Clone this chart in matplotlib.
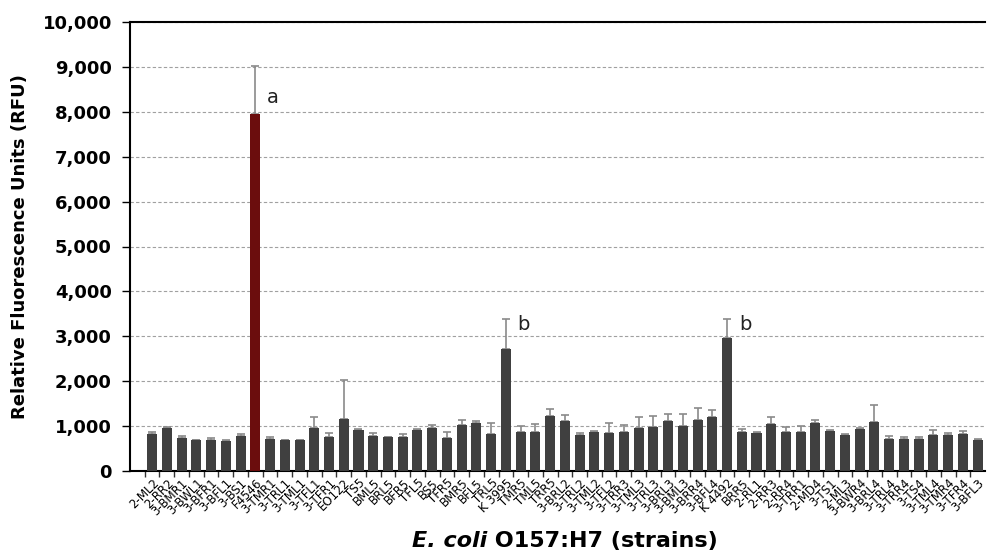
import numpy as np
import matplotlib.pyplot as plt

strains = ['2-ML2', '2-RR2', '3-BMR1', '3-BWL1', '3-BFR1', '3-BFL1', '3-BS1', 'F4546',
           '3-TMR1', '3-TRL1', '3-TML1', '3-TFL1', '3-TFR1', 'EO122', 'TS5', 'BML5',
           'BRL5', 'BFR5', 'TFL5', 'BS5', 'TFR5', 'BMR5', 'BFL5', 'TRL5', 'K 3995',
           'TMR5', 'TML5', 'TRR5', '3-BRL2', '3-TRL2', '3-TML2', '3-TFL2', '3-TRR3',
           '3-TML3', '3-TRL3', '3-BRL3', '3-BML3', '3-BRR4', '3-BFL4', 'K 4492', 'BRR5',
           '2-RL1', '2-RR3', '2-RR4', '3-TRR1', '2-MD4', '3-TS1', '2-ML3', '3-BWR4',
           '3-BRL4', '3-TRL4', '3-TRR4', '3-TS4', '3-TML4', '3-TMR4', '3-TFR4', '3-BFL3']

rfu = [830, 950, 730, 690, 680, 675, 785, 7950,
       710, 690, 690, 950, 765, 1160, 910, 780,
       765, 765, 905, 965, 740, 1015, 1060, 820, 2720,
       860, 875, 1220, 1110, 795, 875, 840, 875,
       950, 985, 1110, 1000, 1125, 1195, 2960, 875,
       840, 1040, 875, 875, 1060, 895, 805, 940,
       1095, 710, 710, 705, 800, 800, 820, 680]

err = [30, 40, 50, 0, 60, 10, 40, 1080,
       45, 0, 0, 260, 90, 860, 15, 75,
       0, 50, 35, 65, 130, 110, 60, 250, 660,
       135, 170, 170, 140, 60, 20, 240, 140,
       245, 250, 160, 260, 270, 170, 420, 50,
       20, 170, 110, 120, 75, 15, 15, 20,
       380, 80, 45, 50, 110, 50, 80, 40]

# significance letters and the height where they sit
letters = {'F4546': ('a', 8100), 'K 3995': ('b', 3050), 'K 4492': ('b', 3050)}

x = np.arange(len(strains))
colors = ['#6b0d0d' if s == 'F4546' else '#404040' for s in strains]

fig = plt.figure(figsize=(10.06, 5.55), dpi=100)
ax = fig.add_axes([130 / 1006, 84 / 555, 855 / 1006, 449 / 555])

ax.bar(x, rfu, width=0.68, color=colors, zorder=3)
ax.errorbar(x, rfu, yerr=[np.zeros(len(err)), err], fmt='none',
            ecolor='#8a8a8a', elinewidth=1.2, capsize=3, capthick=1.2, zorder=2)

for i, s in enumerate(strains):
    if s in letters:
        ax.text(i + 0.8, letters[s][1], letters[s][0], fontsize=14,
                ha='left', va='bottom', color='#222222')

ax.set_xlim(-1.5, 56.5)
ax.set_ylim(0, 10000)
ax.set_yticks(np.arange(0, 10001, 1000))
ax.set_yticklabels(['{:,}'.format(v) for v in range(0, 10001, 1000)],
                   fontsize=13, fontweight='bold')
ax.yaxis.grid(True, linestyle=(0, (3, 2)), color='#a0a0a0', linewidth=0.8, zorder=0)

ax.set_xticks(x)
ax.set_xticklabels(strains, rotation=45, ha='right', va='top',
                   rotation_mode='anchor', fontsize=8.5)
ax.set_xticks(np.arange(-0.5, 56.5, 1), minor=True)
ax.tick_params(axis='x', which='major', length=0, pad=4)
ax.tick_params(axis='x', which='minor', length=4, width=1, color='#333333')
ax.tick_params(axis='y', length=6, width=1, pad=7)

for sp in ['left', 'bottom', 'top']:
    ax.spines[sp].set_linewidth(1.5)
ax.spines['right'].set_visible(False)

ax.set_ylabel('Relative Fluorescence Units (RFU)', fontsize=13, fontweight='bold', labelpad=10)

# x label: italic species name followed by the serotype
fig.canvas.draw()
r = fig.canvas.get_renderer()
t1 = fig.text(0, 0.008, 'E. coli', fontsize=16, fontweight='bold', style='italic',
              ha='left', va='bottom')
t2 = fig.text(0, 0.008, ' O157:H7 (strains)', fontsize=16, fontweight='bold',
              ha='left', va='bottom')
w1 = t1.get_window_extent(r).width
w2 = t2.get_window_extent(r).width
x0 = 565 - (w1 + w2) / 2
t1.set_x(x0 / 1006)
t2.set_x((x0 + w1) / 1006)

fig.savefig('out.png', dpi=100)
